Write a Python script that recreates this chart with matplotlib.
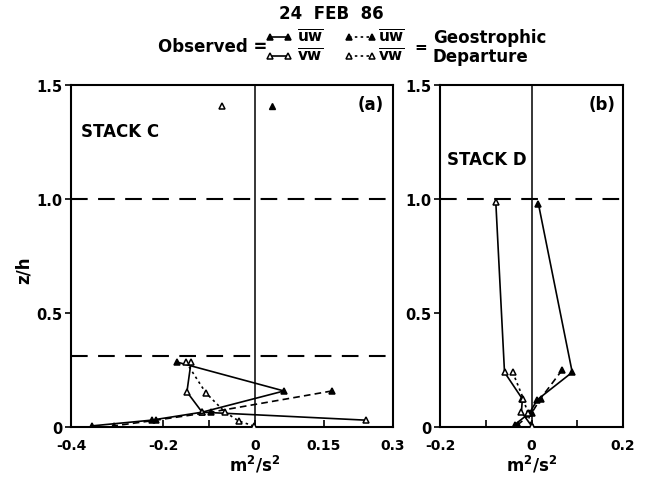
import matplotlib
matplotlib.use("Agg")
import matplotlib.pyplot as plt
from matplotlib.lines import Line2D

plt.rcParams['font.family'] = ['DejaVu Sans']
plt.rcParams['font.weight'] = 'bold'
plt.rcParams['mathtext.default'] = 'bf'

# ---------------- data ----------------
# Panel (a) STACK C
a_obs_uw_x = [-0.17, 0.063, -0.115, -0.225, -0.354]
a_obs_uw_z = [0.285, 0.158, 0.065, 0.03, 0.005]
a_obs_vw_x = [-0.139, -0.148, -0.115, 0.241]
a_obs_vw_z = [0.285, 0.154, 0.065, 0.03]
a_geo_uw_x = [0.167, -0.096, -0.215, -0.306]
a_geo_uw_z = [0.158, 0.065, 0.03, 0.005]
a_geo_vw_x = [-0.15, -0.107, -0.065, -0.035, -0.002]
a_geo_vw_z = [0.285, 0.15, 0.065, 0.026, 0.004]
a_top_uw_x, a_top_uw_z = [0.037], [1.41]
a_top_vw_x, a_top_vw_z = [-0.072], [1.41]
a_hlines = [1.0, 0.31]

# Panel (b) STACK D
b_obs_uw_x = [0.015, 0.089, 0.013, -0.005, -0.037]
b_obs_uw_z = [0.98, 0.24, 0.12, 0.06, 0.01]
b_obs_vw_x = [-0.078, -0.059, -0.02, -0.022, 0.0]
b_obs_vw_z = [0.985, 0.24, 0.123, 0.066, 0.005]
b_geo_uw_x = [0.067, 0.02, 0.0, -0.03]
b_geo_uw_z = [0.25, 0.125, 0.06, 0.01]
b_geo_vw_x = [-0.041, -0.018, -0.008, 0.0]
b_geo_vw_z = [0.24, 0.125, 0.06, 0.005]
b_hlines = [1.0]

a_xticks = [-0.4, -0.2, 0, 0.15, 0.3]
a_xticklabels = ['-0.4', '-0.2', '0', '0.15', '0.3']
a_xminor = [-0.1]
b_xticks = [-0.2, 0, 0.2]
b_xticklabels = ['-0.2', '0', '0.2']
b_xminor = [-0.1, 0.1]
yticks = [0, 0.5, 1.0, 1.5]
yticklabels = ['0', '0.5', '1.0', '1.5']

# ---------------- figure ----------------
W, H = 646, 485
fig = plt.figure(figsize=(W / 100, H / 100), dpi=100)

def fx(px):
    return px / W

def fy(py):
    return 1 - py / H

axa = fig.add_axes([fx(71), fy(428), (393 - 71) / W, (428 - 86) / H])
axb = fig.add_axes([fx(440), fy(428), (623 - 440) / W, (428 - 86) / H])

FS = 11
TFS = 10
lw = 1.2
ms = 5
solid = '-'
dashed = (0, (4, 2.5))
dotted = (0, (1.5, 2))
hdash = (0, (8, 5))


def style(ax, xlim, xticks, xlabels, xminor):
    ax.set_xlim(*xlim)
    ax.set_ylim(0, 1.5)
    ax.set_xticks(xticks)
    ax.set_xticklabels(xlabels, fontsize=TFS, fontweight='bold')
    ax.set_xticks(xminor, minor=True)
    ax.set_yticks(yticks)
    ax.set_yticklabels(yticklabels, fontsize=TFS + 0.5, fontweight='bold')
    ax.tick_params(axis='x', which='both', direction='in', length=5, width=1.2, pad=8)
    ax.tick_params(axis='y', direction='out', length=4, width=1.2, pad=2)
    for s in ax.spines.values():
        s.set_linewidth(1.5)
    ax.axvline(0, color='black', lw=1.1, zorder=1)
    ax.text(0, -(465 - 428) / 342, r'$\mathbf{m^2/s^2}$', transform=ax.get_xaxis_transform(),
            ha='center', va='center', fontsize=FS + 1)


def series(ax, x, z, filled, ls):
    ax.plot(x, z, color='black', lw=lw, linestyle=ls, marker='^', ms=ms,
            mfc='black' if filled else 'white', mec='black', mew=1.1, zorder=3)


style(axa, (-0.4, 0.3), a_xticks, a_xticklabels, a_xminor)
style(axb, (-0.2, 0.2), b_xticks, b_xticklabels, b_xminor)

for h in a_hlines:
    axa.axhline(h, color='black', lw=1.5, linestyle=hdash)
for h in b_hlines:
    axb.axhline(h, color='black', lw=1.5, linestyle=hdash)

series(axa, a_obs_uw_x, a_obs_uw_z, True, solid)
series(axa, a_obs_vw_x, a_obs_vw_z, False, solid)
series(axa, a_geo_uw_x, a_geo_uw_z, True, dashed)
series(axa, a_geo_vw_x, a_geo_vw_z, False, dotted)
axa.plot(a_top_uw_x, a_top_uw_z, linestyle='none', marker='^', ms=ms, mfc='black', mec='black')
axa.plot(a_top_vw_x, a_top_vw_z, linestyle='none', marker='^', ms=ms, mfc='white', mec='black', mew=1.1)

series(axb, b_obs_uw_x, b_obs_uw_z, True, solid)
series(axb, b_obs_vw_x, b_obs_vw_z, False, solid)
series(axb, b_geo_uw_x, b_geo_uw_z, True, dashed)
series(axb, b_geo_vw_x, b_geo_vw_z, False, dotted)

axa.text(0.03, 0.85, 'STACK C', transform=axa.transAxes, fontsize=FS + 1, fontweight='bold')
axa.text(0.97, 0.97, '(a)', transform=axa.transAxes, fontsize=FS + 1, fontweight='bold', ha='right', va='top')
axb.text(0.04, 0.77, 'STACK D', transform=axb.transAxes, fontsize=FS + 1, fontweight='bold')
axb.text(0.96, 0.97, '(b)', transform=axb.transAxes, fontsize=FS + 1, fontweight='bold', ha='right', va='top')

fig.text(fx(24), fy(270), 'z/h', rotation=90, ha='center', va='center', fontsize=FS + 1, fontweight='bold')

# title and legend
fig.text(fx(331), fy(14), '24  FEB  86', ha='center', va='center', fontsize=FS + 1, fontweight='bold')
fig.text(fx(213), fy(47), 'Observed =', ha='center', va='center', fontsize=FS + 1, fontweight='bold')


def legsym(x1, x2, y, filled, ls):
    fig.add_artist(Line2D([fx(x1), fx(x2)], [fy(y), fy(y)], transform=fig.transFigure,
                          color='black', lw=lw, linestyle=ls, marker='^', ms=ms,
                          mfc='black' if filled else 'white', mec='black', mew=1.1))

legsym(270, 288, 38, True, solid)
legsym(270, 288, 57, False, solid)
legsym(349, 372, 38, True, dotted)
legsym(349, 372, 57, False, dotted)
fig.text(fx(310), fy(37), r'$\overline{\mathbf{uw}}$', ha='center', va='center', fontsize=FS)
fig.text(fx(310), fy(56), r'$\overline{\mathbf{vw}}$', ha='center', va='center', fontsize=FS)
fig.text(fx(391), fy(37), r'$\overline{\mathbf{uw}}$', ha='center', va='center', fontsize=FS)
fig.text(fx(391), fy(56), r'$\overline{\mathbf{vw}}$', ha='center', va='center', fontsize=FS)
fig.text(fx(421), fy(47), '=', ha='center', va='center', fontsize=FS, fontweight='bold')
fig.text(fx(433), fy(38), 'Geostrophic', ha='left', va='center', fontsize=FS + 1, fontweight='bold')
fig.text(fx(433), fy(57), 'Departure', ha='left', va='center', fontsize=FS + 1, fontweight='bold')

fig.savefig('out.png', dpi=100)
